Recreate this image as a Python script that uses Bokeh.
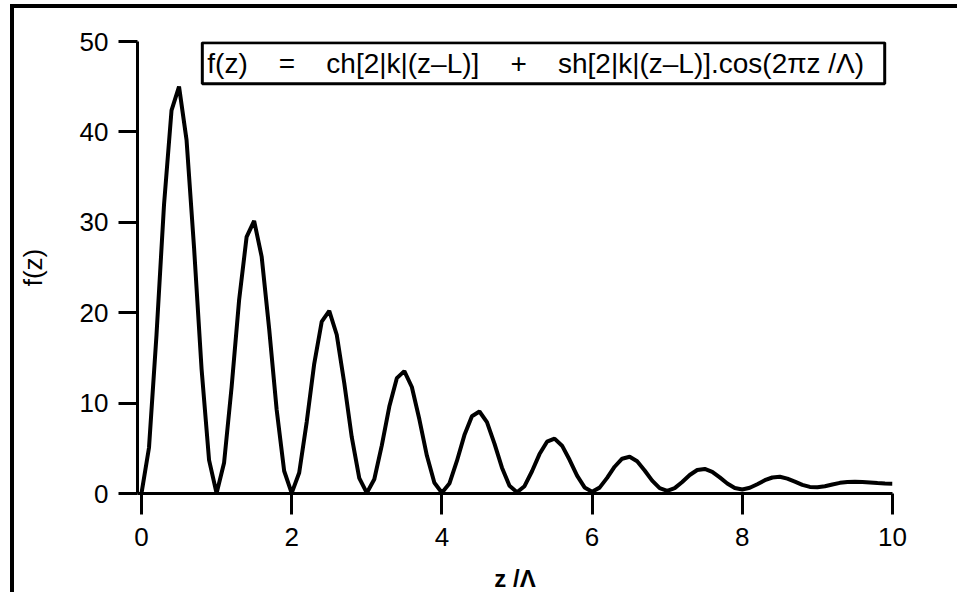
from bokeh.plotting import figure
from bokeh.models import Label, FixedTicker, Range1d
from bokeh.embed import file_html
from bokeh.resources import INLINE

# z / Lambda values
z = [0.0, 0.1, 0.2, 0.3, 0.4, 0.5, 0.6, 0.7, 0.8, 0.9,
     1.0, 1.1, 1.2, 1.3, 1.4, 1.5, 1.6, 1.7, 1.8, 1.9,
     2.0, 2.1, 2.2, 2.3, 2.4, 2.5, 2.6, 2.7, 2.8, 2.9,
     3.0, 3.1, 3.2, 3.3, 3.4, 3.5, 3.6, 3.7, 3.8, 3.9,
     4.0, 4.1, 4.2, 4.3, 4.4, 4.5, 4.6, 4.7, 4.8, 4.9,
     5.0, 5.1, 5.2, 5.3, 5.4, 5.5, 5.6, 5.7, 5.8, 5.9,
     6.0, 6.1, 6.2, 6.3, 6.4, 6.5, 6.6, 6.7, 6.8, 6.9,
     7.0, 7.1, 7.2, 7.3, 7.4, 7.5, 7.6, 7.7, 7.8, 7.9,
     8.0, 8.1, 8.2, 8.3, 8.4, 8.5, 8.6, 8.7, 8.8, 8.9,
     9.0, 9.1, 9.2, 9.3, 9.4, 9.5, 9.6, 9.7, 9.8, 9.9,
     10.0]

# f(z) values
f = [0.02, 5.06, 17.55, 31.93, 42.38, 45.01, 39.12, 27.19, 13.79, 3.69,
     0.03, 3.41, 11.77, 21.40, 28.39, 30.16, 26.21, 18.22, 9.26, 2.49,
     0.04, 2.30, 7.90, 14.34, 19.02, 20.20, 17.56, 12.22, 6.23, 1.70,
     0.06, 1.57, 5.32, 9.62, 12.76, 13.54, 11.78, 8.21, 4.20, 1.18,
     0.09, 1.10, 3.60, 6.46, 8.55, 9.07, 7.89, 5.52, 2.86, 0.86,
     0.13, 0.81, 2.46, 4.36, 5.73, 6.07, 5.29, 3.73, 1.98, 0.67,
     0.20, 0.65, 1.73, 2.96, 3.85, 4.07, 3.56, 2.55, 1.43, 0.59,
     0.30, 0.59, 1.27, 2.05, 2.60, 2.72, 2.40, 1.78, 1.11, 0.61,
     0.45, 0.63, 1.03, 1.47, 1.77, 1.85, 1.64, 1.31, 0.96, 0.73,
     0.70, 0.80, 1.00, 1.18, 1.28, 1.30, 1.28, 1.22, 1.15, 1.10,
     1.08]

x_ticks = [0, 2, 4, 6, 8, 10]
y_ticks = [0, 10, 20, 30, 40, 50]
x_label = "z /Λ"
y_label = "f(z)"
NB = "\u00a0"
formula_text = ("f(z)" + NB * 4 + "=" + NB * 4 + "ch[2|k|(z–L)]" + NB * 4 + "+"
                + NB * 4 + "sh[2|k|(z–L)].cos(2πz /Λ)" + NB * 2)

p = figure(frame_width=755, frame_height=452,
           x_range=Range1d(-0.053, 10), y_range=Range1d(0, 50),
           output_backend="svg", toolbar_location=None,
           min_border_left=123, min_border_top=33, min_border_right=65,
           min_border_bottom=60)
p.styles = {"margin-left": "10px", "margin-top": "4px",
            "border-left": "4px solid black", "border-top": "4px solid black"}
p.outline_line_color = None
p.grid.visible = False
p.background_fill_color = "white"
p.border_fill_color = "white"

p.line(z, f, line_color="black", line_width=4)

p.xaxis.ticker = FixedTicker(ticks=x_ticks)
p.yaxis.ticker = FixedTicker(ticks=y_ticks)
p.xaxis.axis_label = x_label
p.yaxis.axis_label = y_label

for ax in (p.xaxis[0], p.yaxis[0]):
    ax.axis_line_width = 3
    ax.axis_line_color = "black"
    ax.major_tick_line_width = 3
    ax.major_tick_line_color = "black"
    ax.minor_tick_line_color = None
    ax.major_tick_in = 0
    ax.major_label_text_font = "Liberation Sans"
    ax.major_label_text_font_size = "26px"
    ax.major_label_text_color = "black"
    ax.axis_label_text_font = "Liberation Sans"
    ax.axis_label_text_font_size = "26px"
    ax.axis_label_text_color = "black"
    ax.axis_label_text_font_style = "normal"

p.xaxis.major_tick_out = 21
p.xaxis.major_label_standoff = 13
p.xaxis.axis_label_standoff = 16
p.xaxis.axis_label_text_font_style = "bold"
p.xaxis.axis_label_text_font_size = "24px"
p.yaxis.major_tick_out = 19
p.yaxis.major_label_standoff = 10
p.yaxis.axis_label_standoff = 29

formula = Label(x=0.81, y=47.6, x_units="data", y_units="data",
                text=formula_text, text_font="Liberation Sans",
                text_font_size="28px", text_color="black",
                text_baseline="middle", text_align="left",
                border_line_color="black", border_line_width=3,
                background_fill_color="white", padding=5)
p.add_layout(formula)

open("out.html", "w").write(file_html(p, INLINE))
